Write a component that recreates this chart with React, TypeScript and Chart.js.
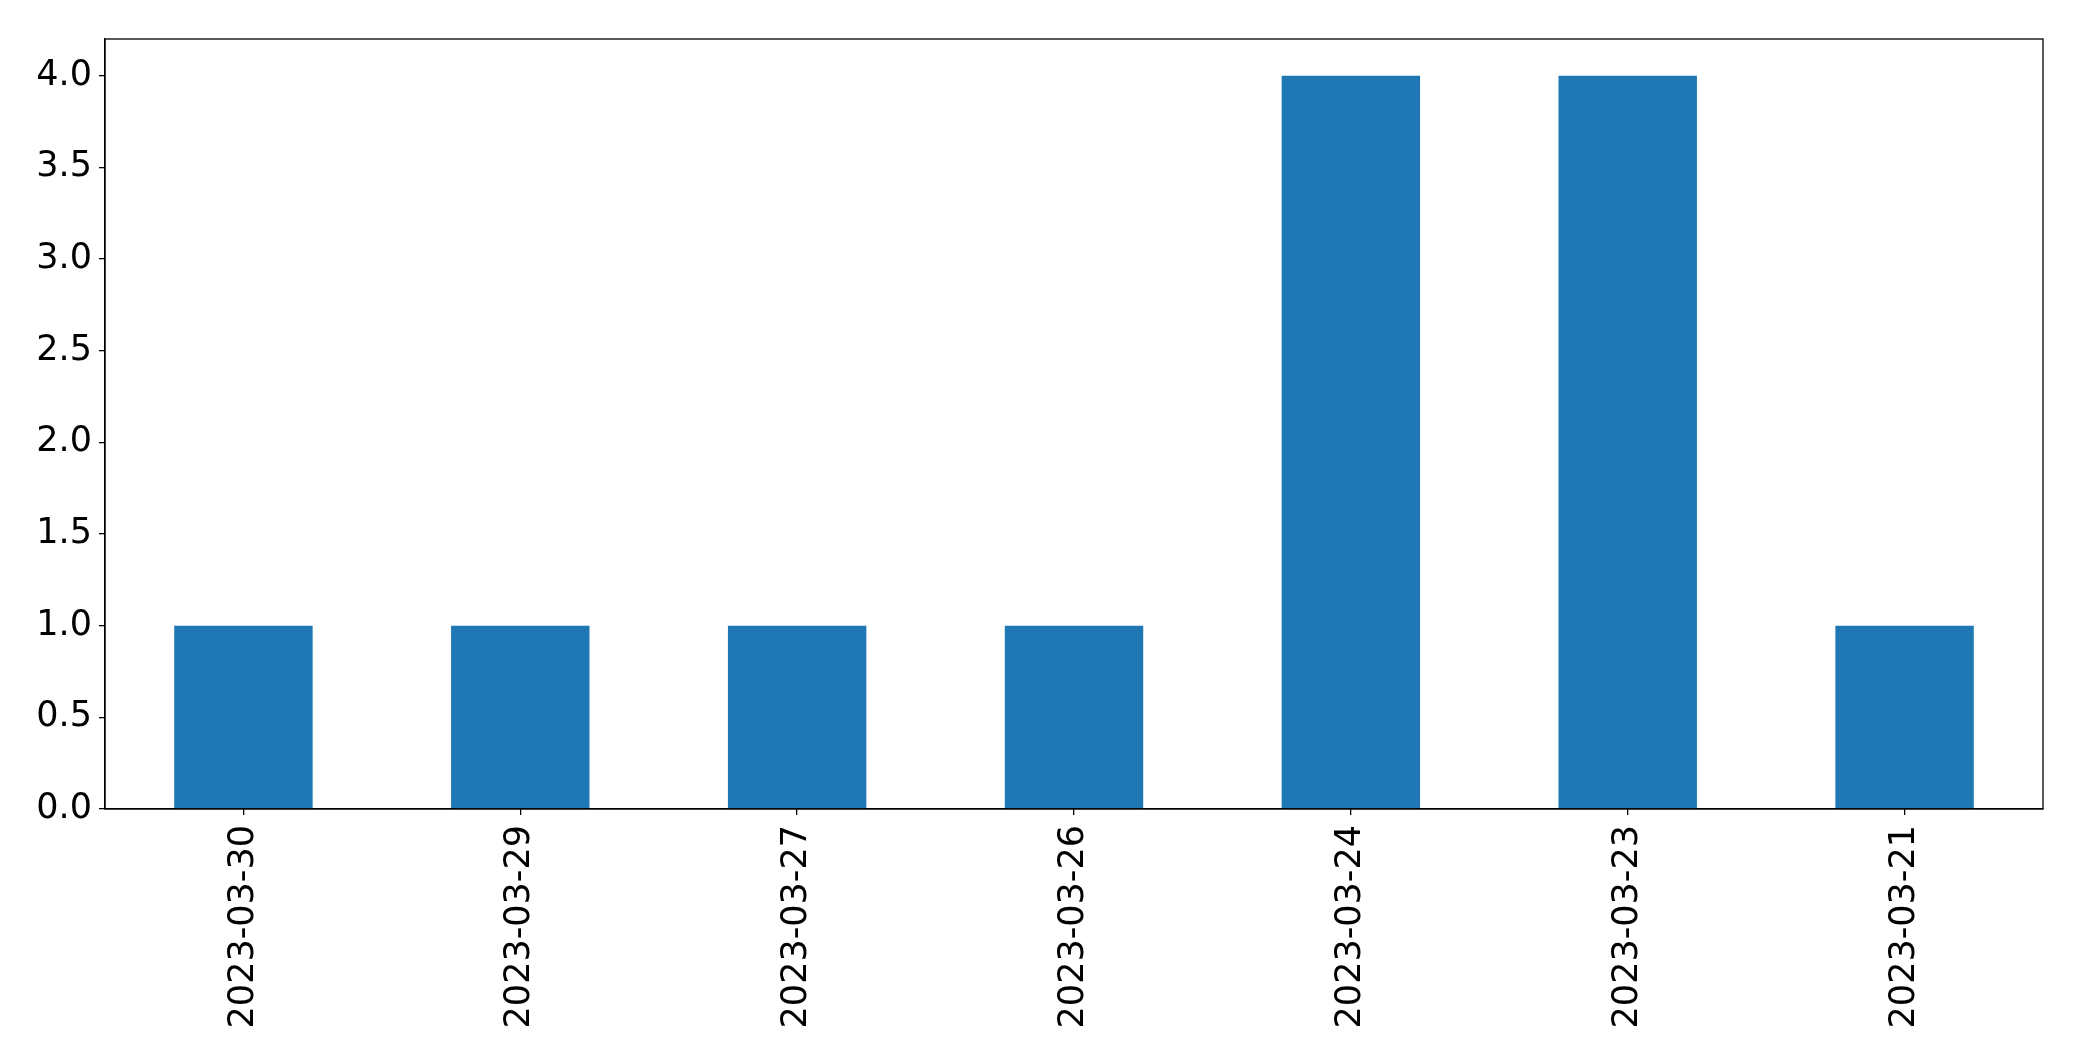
import React, { useEffect, useRef } from "react";
import { Chart, registerables } from "chart.js";

Chart.register(...registerables);

const categories = ["2023-03-30", "2023-03-29", "2023-03-27", "2023-03-26", "2023-03-24", "2023-03-23", "2023-03-21"];
const counts = [1, 1, 1, 1, 4, 4, 1];
const yMin = 0;
const yMax = 4.2;
const yTickValues = [0, 0.5, 1.0, 1.5, 2.0, 2.5, 3.0, 3.5, 4.0];

const W = 2082;
const H = 1061;

const framePlugin = {
  id: "frame",
  afterDatasetsDraw(chart: any) {
    const { ctx, chartArea } = chart;
    ctx.save();
    ctx.strokeStyle = "#000";
    ctx.lineWidth = 1.3;
    ctx.strokeRect(chartArea.left, chartArea.top, chartArea.right - chartArea.left, chartArea.bottom - chartArea.top);
    ctx.restore();
  },
};

export default function App() {
  const ref = useRef<HTMLCanvasElement | null>(null);
  useEffect(() => {
    if (!ref.current) return;
    const font = { family: "'DejaVu Sans', sans-serif", size: 35 };
    const chart = new Chart(ref.current, {
      type: "bar",
      data: {
        labels: categories,
        datasets: [
          {
            data: counts,
            backgroundColor: "#1f77b4",
            borderWidth: 0,
            barPercentage: 0.5,
            categoryPercentage: 1,
          },
        ],
      },
      options: {
        responsive: false,
        animation: false,
        devicePixelRatio: 1,
        layout: { padding: { top: 39, right: 39, left: 0, bottom: 0 } },
        plugins: { legend: { display: false }, tooltip: { enabled: false } },
        scales: {
          x: {
            offset: true,
            grid: { offset: false, drawOnChartArea: false, drawTicks: true, tickLength: 6, color: "#000", lineWidth: 1.3 },
            border: { display: true, color: "#000", width: 1.3 },
            ticks: { color: "#000", font, minRotation: 90, maxRotation: 90, padding: 10, autoSkip: false },
            afterFit(scale: any) {
              scale.height = 252;
            },
          },
          y: {
            min: yMin,
            max: yMax,
            grid: { drawOnChartArea: false, drawTicks: true, tickLength: 6, color: "#000", lineWidth: 1.3 },
            border: { display: true, color: "#000", width: 1.3 },
            ticks: {
              color: "#000",
              font,
              padding: 7,
              autoSkip: false,
              callback: (v: any) => Number(v).toFixed(1),
            },
            afterBuildTicks(scale: any) {
              scale.ticks = yTickValues.map((v) => ({ value: v }));
            },
            afterFit(scale: any) {
              scale.width = 105;
            },
          },
        },
      },
      plugins: [framePlugin],
    });
    return () => chart.destroy();
  }, []);
  return (
    <div style={{ position: "fixed", left: 0, top: 0, width: W, height: H, background: "#fff" }}>
      <canvas ref={ref} width={W} height={H} style={{ width: W, height: H, display: "block" }} />
    </div>
  );
}
